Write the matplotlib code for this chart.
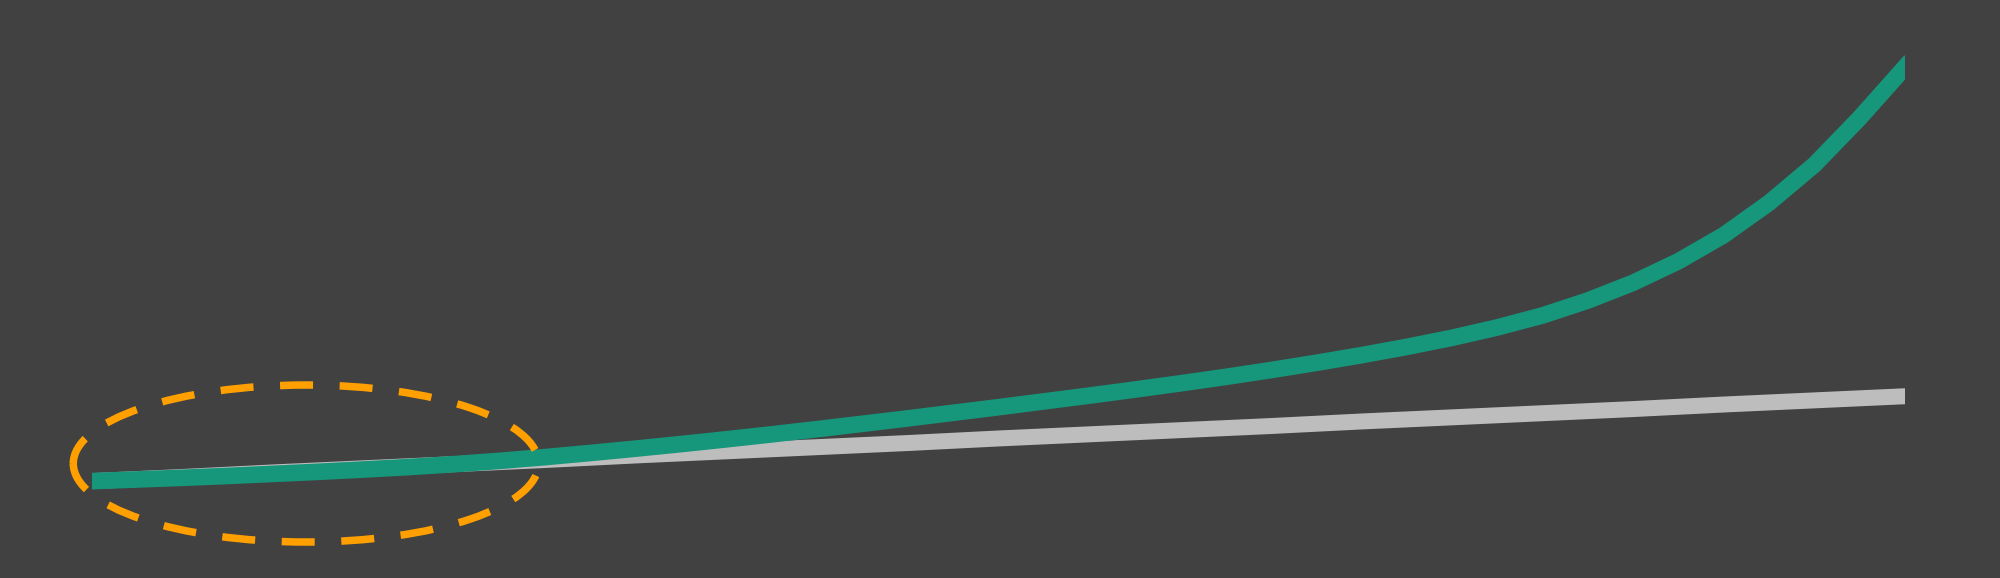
import numpy as np
import matplotlib
matplotlib.use("Agg")
import matplotlib.pyplot as plt
from matplotlib.patches import Ellipse

# ---- data ----
green_x = [0, 0.5, 1, 1.5, 2, 2.5, 3, 3.5, 4, 4.5, 5, 5.5, 6, 6.5, 7, 7.5, 8, 8.5, 9, 9.5,
           10, 10.5, 11, 11.5, 12, 12.5, 13, 13.5, 14, 14.5, 15, 15.5, 16, 16.5, 17, 17.5,
           18, 18.5, 19, 19.5, 20]
green_y = [0.0, 0.4, 0.8, 1.25, 1.75, 2.25, 2.8, 3.4, 4.1, 4.9, 5.8, 6.8, 7.85, 8.95, 10.1,
           11.3, 12.55, 13.85, 15.15, 16.5, 17.85, 19.25, 20.65, 22.1, 23.6, 25.15, 26.8,
           28.55, 30.4, 32.4, 34.6, 37.1, 40.0, 43.6, 47.9, 53.1, 59.4, 67.2, 76.4, 87.7,
           100.0]
gray_x = [0, 1, 2, 3, 4, 5, 6, 7, 8, 9, 10, 11, 12, 13, 14, 15, 16, 17, 18, 19, 20]
gray_y = [0.0, 1.0, 2.1, 3.1, 4.1, 5.1, 6.2, 7.2, 8.2, 9.2, 10.3, 11.3, 12.3, 13.3, 14.4,
          15.4, 16.4, 17.4, 18.5, 19.5, 20.5]

BG = "#414141"
GREEN = "#16967b"
GRAY = "#bdbdbd"
ORANGE = "#ffa000"

fig = plt.figure(figsize=(20, 5.78), dpi=100, facecolor=BG)
ax = fig.add_axes([0.046, 0.0, 0.9065, 1.0])
ax.set_facecolor(BG)

ax.plot(gray_x, gray_y, color=GRAY, lw=11.5, solid_capstyle="projecting", zorder=2)
ax.plot(green_x, green_y, color=GREEN, lw=12, solid_capstyle="projecting",
        solid_joinstyle="round", zorder=3)

ax.set_xlim(0, 20)
ax.set_ylim(-23.4, 116.2)

# highlight ellipse around the start of the series (size in inches, centred on a data point)
cx, cy = fig.dpi_scale_trans.inverted().transform(ax.transData.transform((2.36, 4.25)))
lw_e = 5.4
ell = Ellipse((cx, cy), width=1.57, height=4.653, angle=-90,
              transform=fig.dpi_scale_trans, fill=False, edgecolor=ORANGE, lw=lw_e,
              linestyle=(2.16 / lw_e, (23.76 / lw_e, 19.15 / lw_e)),
              clip_on=False, zorder=4)
fig.add_artist(ell)

ax.axis("off")
fig.savefig("out.png", dpi=100, facecolor=BG)
